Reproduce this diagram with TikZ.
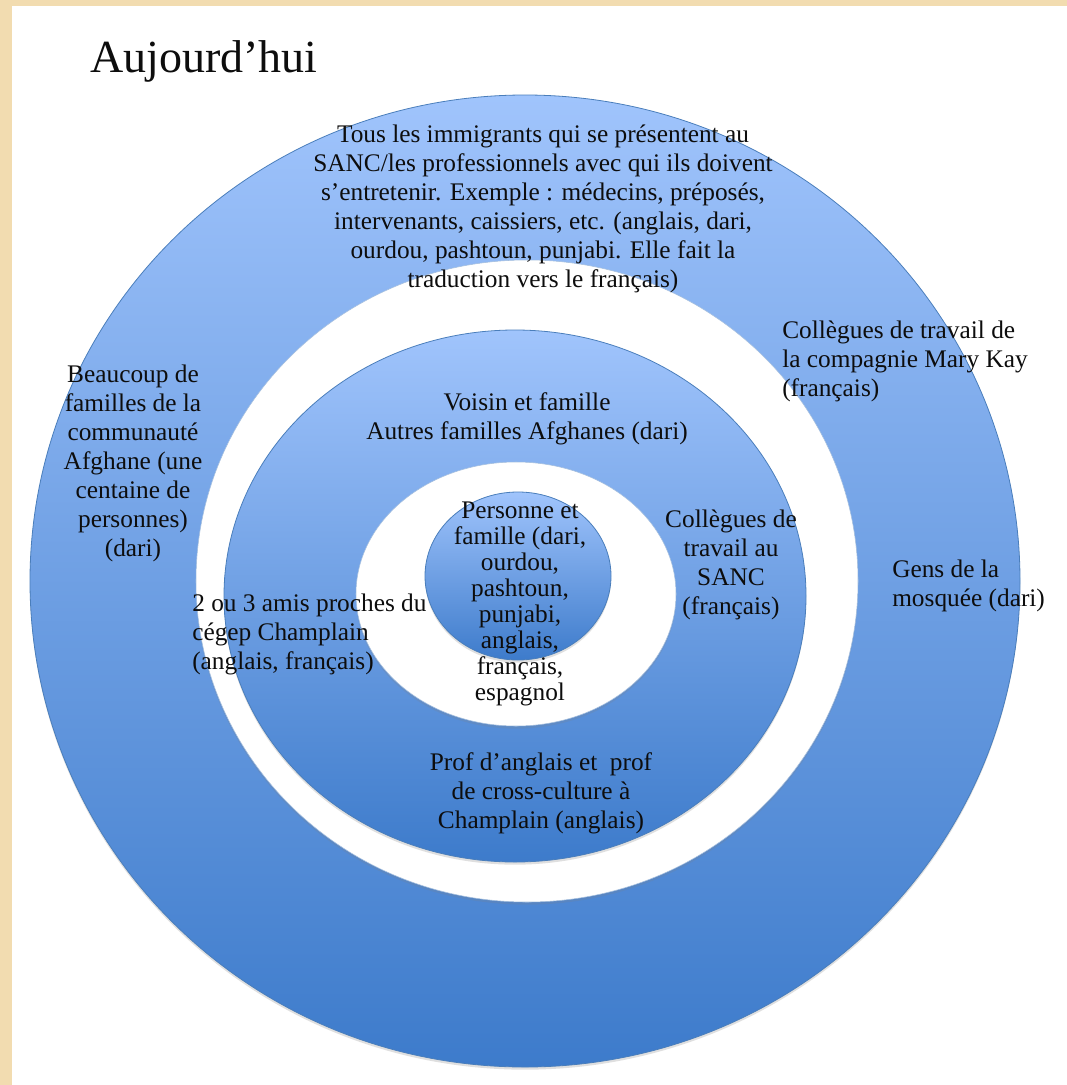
\documentclass[tikz,border=0pt]{standalone}
\usepackage{fontspec}
\setmainfont{Liberation Serif}
\usetikzlibrary{shadows,positioning}

\definecolor{tanbg}{HTML}{F2DCB0}
\definecolor{ringtop}{HTML}{A0C4FC}
\definecolor{ringbot}{HTML}{3D7BCB}
\definecolor{ringline}{HTML}{4A7EBB}

\begin{document}
\begin{tikzpicture}[x=0.75pt,y=-0.75pt]
        \tikzstyle{every node}=[font=\fontsize{19}{21.75}\selectfont,inner sep=0pt,text=black!95]
        \tikzstyle{ring}=[draw=ringline,line width=0.6pt,top color=ringtop,bottom color=ringbot,
                          drop shadow={opacity=0.25,shadow xshift=0pt,shadow yshift=-2pt}]
        \tikzstyle{gap}=[draw=ringline!50,line width=0.4pt,fill=white,
                          drop shadow={opacity=0.2,shadow xshift=0pt,shadow yshift=-2pt}]

        %%% Page
        \useasboundingbox (0,0) rectangle (1067,1085);
        \fill[tanbg] (0,0) rectangle (1067,1085);
        \fill[white] (12,6) rectangle (1067,1085);

        \node[anchor=base west,font=\fontsize{34.5}{40}\selectfont] (title) at (90,72) {Aujourd’hui};

        %%% Circles, outside in
        \path[ring] (525,581) ellipse (495 and 486);
        \path[gap]  (527,581) ellipse (331 and 321);
        \path[ring] (515,596) ellipse (291 and 266);
        \path[gap]  (516,594) ellipse (160 and 132);
        \path[ring] (518,576) ellipse (93 and 84);

        %%% Outer ring
        \node[align=center] (sanc) at (543,209) {Tous les immigrants qui se présentent au\\SANC/les professionnels avec qui ils doivent\\s’entretenir. Exemple : médecins, préposés,\\intervenants, caissiers, etc. (anglais, dari,\\ourdou, pashtoun, punjabi. Elle fait la\\traduction vers le français)};
        \node[align=center] (communaute) at (133,463) {Beaucoup de\\familles de la\\communauté\\Afghane (une\\centaine de\\personnes)\\(dari)};
        \node[align=left,anchor=west] (marykay) at (782,361) {Collègues de travail de\\la compagnie Mary Kay\\(français)};
        \node[align=left,anchor=west] (mosquee) at (892,586) {Gens de la\\mosquée (dari)};

        %%% Middle ring
        \node[align=center] (voisin) at (527,419) {Voisin et famille\\Autres familles Afghanes (dari)};
        \node[align=center] (collegues) at (731,565) {Collègues de\\travail au\\SANC\\(français)};
        \node[align=left,anchor=west] (amis) at (192,634) {2 ou 3 amis proches du\\cégep Champlain\\(anglais, français)};
        \node[align=center] (prof) at (541,793) {Prof d’anglais et~ prof\\de cross-culture à\\Champlain (anglais)};

        %%% Centre
        \node[align=center,font=\fontsize{19}{19.5}\selectfont] (personne) at (520,604) {Personne et\\famille (dari,\\ourdou,\\pashtoun,\\punjabi,\\anglais,\\français,\\espagnol};
\end{tikzpicture}
\end{document}
